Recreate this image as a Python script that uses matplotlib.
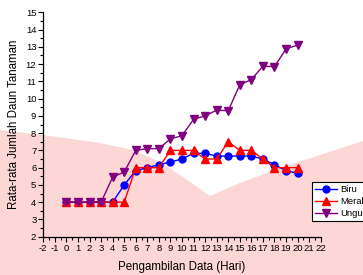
import matplotlib
matplotlib.use("Agg")
import matplotlib.pyplot as plt
from matplotlib.patches import Polygon
from matplotlib.ticker import MultipleLocator

days = list(range(21))
biru = [4, 4, 4, 4, 4, 5, 5.83, 6, 6.17, 6.33, 6.5, 6.83, 6.83, 6.67, 6.67, 6.67, 6.67, 6.5, 6.17, 5.83, 5.67]
merah = [4, 4, 4, 4, 4, 4, 6, 6, 6, 7, 7, 7, 6.5, 6.5, 7.5, 7, 7, 6.5, 6, 6, 6]
ungu = [4, 4, 4, 4, 5.45, 5.75, 7, 7.1, 7.1, 7.67, 7.85, 8.8, 9, 9.33, 9.3, 10.8, 11.1, 11.88, 11.85, 12.88, 13.1]
xticks = list(range(-2, 23))
yticks = list(range(2, 16))

plt.rcParams['font.family'] = ['Liberation Sans', 'DejaVu Sans']
plt.rcParams['axes.unicode_minus'] = False

W, H = 363, 275
fig = plt.figure(figsize=(W / 100, H / 100), dpi=100)

# background watermark (pink lower area) on a background axes
bg = fig.add_axes([0, 0, 1, 1], zorder=-10)
bg.set_xlim(0, W)
bg.set_ylim(H, 0)
bg.axis('off')
pts = [(0, 130), (50, 136), (100, 143), (133, 150), (160, 162), (183, 177), (210, 196),
       (240, 183), (280, 168), (320, 155), (363, 141), (363, 275), (0, 275)]
bg.add_patch(Polygon(pts, closed=True, facecolor='#fdd6d6', edgecolor='none'))

ax = fig.add_axes([43.3 / W, 1 - 236.7 / H, (320.7 - 43.3) / W, (236.7 - 12.3) / H], zorder=1)
ax.set_facecolor('none')

ax.plot(days, biru, color='#0000ff', marker='o', markersize=5.0, linewidth=1.0, label='Biru')
ax.plot(days, merah, color='#ff0000', marker='^', markersize=5.5, linewidth=1.0, label='Merah')
ax.plot(days, ungu, color='#800080', marker='v', markersize=5.5, linewidth=1.0, label='Ungu')

ax.set_xlim(-2, 22)
ax.set_ylim(2, 15)
ax.set_xticks(xticks)
ax.set_yticks(yticks)
ax.xaxis.set_minor_locator(MultipleLocator(0.5))
ax.yaxis.set_minor_locator(MultipleLocator(0.5))
ax.tick_params(which='major', direction='out', length=3.5, width=0.8, labelsize=6.8, pad=1.5, colors='black')
ax.tick_params(which='minor', direction='out', length=2, width=0.8)
for s in ['top', 'right']:
    ax.spines[s].set_visible(False)
for s in ['left', 'bottom']:
    ax.spines[s].set_linewidth(0.9)

ax.set_xlabel('Pengambilan Data (Hari)', fontsize=8.3, labelpad=6)
ax.set_ylabel('Rata-rata Jumlah Daun Tanaman', fontsize=8.3, labelpad=4)

leg = ax.legend(loc='upper left', bbox_to_anchor=(312 / W, 1 - 182 / H), bbox_transform=fig.transFigure,
                fontsize=6.8, frameon=True, fancybox=False, edgecolor='black', framealpha=1,
                handlelength=2.3, handletextpad=0.4, borderpad=0.3, labelspacing=0.35, borderaxespad=0)
leg.get_frame().set_linewidth(0.8)

fig.savefig('out.png', dpi=100)
